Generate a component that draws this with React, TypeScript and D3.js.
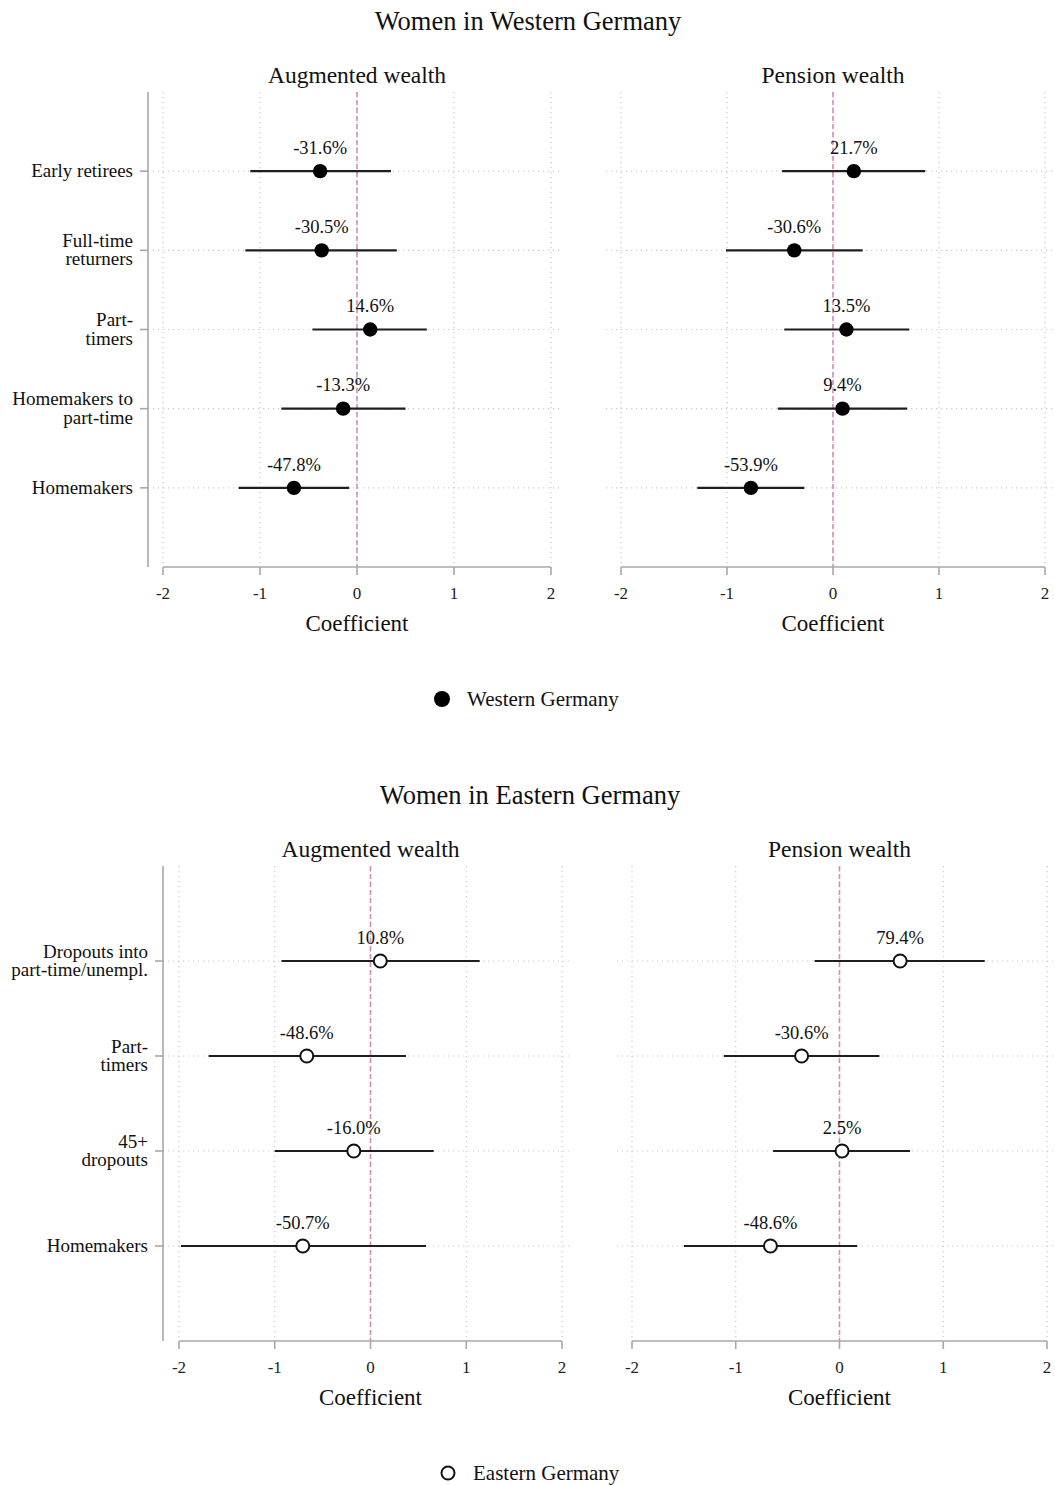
import React from "react";
import * as d3 from "d3";

// Coefficient plots: effect on augmented and pension wealth, by group.
const xTicks = [-2, -1, 0, 1, 2];

const westCategories = ["Early retirees", "Full-time\nreturners", "Part-\ntimers", "Homemakers to\npart-time", "Homemakers"];
const westAugPct = [-31.6, -30.5, 14.6, -13.3, -47.8];
const westAugLo = [-1.10, -1.15, -0.46, -0.78, -1.22];
const westAugHi = [0.35, 0.41, 0.72, 0.50, -0.08];
const westPenPct = [21.7, -30.6, 13.5, 9.4, -53.9];
const westPenLo = [-0.48, -1.01, -0.46, -0.52, -1.28];
const westPenHi = [0.87, 0.28, 0.72, 0.70, -0.27];

const eastCategories = ["Dropouts into\npart-time/unempl.", "Part-\ntimers", "45+\ndropouts", "Homemakers"];
const eastAugPct = [10.8, -48.6, -16.0, -50.7];
const eastAugLo = [-0.93, -1.69, -1.00, -1.98];
const eastAugHi = [1.14, 0.37, 0.66, 0.58];
const eastPenPct = [79.4, -30.6, 2.5, -48.6];
const eastPenLo = [-0.24, -1.115, -0.64, -1.50];
const eastPenHi = [1.40, 0.385, 0.68, 0.17];

const FONT = "'Liberation Serif', 'Times New Roman', serif";
const AXIS = "#a8a8a8";
const GRID = "#c9c9c9";
const ZERO = "#d58cb3";
const DY = 1.5; // small baseline nudge for centred text

// percentage effect -> log coefficient
const coef = (pct: number) => Math.log(1 + pct / 100);

type PanelProps = {
  title: string;
  cats: string[];
  pct: number[];
  lo: number[];
  hi: number[];
  x0: number;
  x1: number;
  top: number;
  bottom: number;
  gridLeft: number;
  gridRight: number;
  axisX?: number;
  labelX?: number;
  hollow: boolean;
};

function Panel(p: PanelProps) {
  const x = d3.scaleLinear().domain([-2, 2]).range([p.x0, p.x1]);
  const y = d3.scaleLinear().domain([0, p.cats.length + 1]).range([p.top, p.bottom]);
  const rows = p.cats.map((_, i) => i + 1);
  return (
    <g>
      <text x={x(0)} y={p.top - 16 + DY} textAnchor="middle" dominantBaseline="middle" fontSize={23.5} fontFamily={FONT} fill="#111">{p.title}</text>
      {/* vertical dotted grid */}
      {xTicks.map((t) => (
        <line key={"vg" + t} x1={x(t)} x2={x(t)} y1={p.top} y2={p.bottom} stroke={GRID} strokeWidth={1.2} strokeDasharray="1.2,3.8" />
      ))}
      {/* horizontal dotted grid */}
      {rows.map((r) => (
        <line key={"hg" + r} x1={p.gridLeft} x2={p.gridRight} y1={y(r)} y2={y(r)} stroke={GRID} strokeWidth={1.2} strokeDasharray="1.2,3.8" />
      ))}
      {/* zero reference */}
      <line x1={x(0)} x2={x(0)} y1={p.top} y2={p.bottom} stroke={ZERO} strokeWidth={1.6} strokeDasharray="5,3" />
      {/* x axis */}
      <line x1={x(-2)} x2={x(2)} y1={p.bottom} y2={p.bottom} stroke={AXIS} strokeWidth={1.6} />
      {xTicks.map((t) => (
        <g key={"xt" + t}>
          <line x1={x(t)} x2={x(t)} y1={p.bottom} y2={p.bottom + 8} stroke={AXIS} strokeWidth={1.6} />
          <text x={x(t)} y={p.bottom + 27 + DY} textAnchor="middle" dominantBaseline="middle" fontSize={17} fontFamily={FONT} fill="#222">{t}</text>
        </g>
      ))}
      <text x={x(0)} y={p.bottom + 57 + DY} textAnchor="middle" dominantBaseline="middle" fontSize={23} fontFamily={FONT} fill="#111">Coefficient</text>
      {/* y axis with category labels */}
      {p.axisX !== undefined && (
        <g>
          <line x1={p.axisX} x2={p.axisX} y1={p.top} y2={p.bottom} stroke={AXIS} strokeWidth={1.6} />
          {p.cats.map((c, i) => {
            const lines = c.split("\n");
            const yc = y(i + 1);
            return (
              <g key={"yl" + i}>
                <line x1={p.axisX! - 8} x2={p.axisX} y1={yc} y2={yc} stroke={AXIS} strokeWidth={1.6} />
                {lines.map((ln, j) => (
                  <text key={j} x={p.labelX} y={yc + DY + (j - (lines.length - 1) / 2) * 18.5} textAnchor="end" dominantBaseline="middle" fontSize={19} fontFamily={FONT} fill="#111">{ln}</text>
                ))}
              </g>
            );
          })}
        </g>
      )}
      {/* estimates with confidence intervals */}
      {p.pct.map((v, i) => {
        const yc = y(i + 1);
        const cx = x(coef(v));
        return (
          <g key={"pt" + i}>
            <line x1={x(p.lo[i])} x2={x(p.hi[i])} y1={yc} y2={yc} stroke="#1e1e1e" strokeWidth={2.2} />
            {p.hollow ? (
              <circle cx={cx} cy={yc} r={6.5} fill="#fff" stroke="#111" strokeWidth={2} />
            ) : (
              <circle cx={cx} cy={yc} r={7.2} fill="#000" />
            )}
            <text x={cx} y={yc - 23 + DY} textAnchor="middle" dominantBaseline="middle" fontSize={18.5} fontFamily={FONT} fill="#111">{v.toFixed(1) + "%"}</text>
          </g>
        );
      })}
    </g>
  );
}

export default function App() {
  return (
    <svg width={1055} height={1485} style={{ position: "absolute", left: 0, top: 0, background: "#fff" }}>
      <rect width={1055} height={1485} fill="#fff" />
      <text x={528} y={22 + DY} textAnchor="middle" dominantBaseline="middle" fontSize={26.5} fontFamily={FONT} fill="#111">Women in Western Germany</text>
      <Panel title="Augmented wealth" cats={westCategories} pct={westAugPct} lo={westAugLo} hi={westAugHi}
        x0={163} x1={551} top={92} bottom={567} gridLeft={148} gridRight={562} axisX={148} labelX={133} hollow={false} />
      <Panel title="Pension wealth" cats={westCategories} pct={westPenPct} lo={westPenLo} hi={westPenHi}
        x0={621} x1={1045} top={92} bottom={567} gridLeft={606} gridRight={1060} hollow={false} />
      <circle cx={442} cy={699} r={8} fill="#000" />
      <text x={467} y={700 + DY} dominantBaseline="middle" fontSize={21} fontFamily={FONT} fill="#111">Western Germany</text>

      <text x={530} y={796 + DY} textAnchor="middle" dominantBaseline="middle" fontSize={26.5} fontFamily={FONT} fill="#111">Women in Eastern Germany</text>
      <Panel title="Augmented wealth" cats={eastCategories} pct={eastAugPct} lo={eastAugLo} hi={eastAugHi}
        x0={179} x1={562} top={866} bottom={1341} gridLeft={163} gridRight={573} axisX={163} labelX={148} hollow={true} />
      <Panel title="Pension wealth" cats={eastCategories} pct={eastPenPct} lo={eastPenLo} hi={eastPenHi}
        x0={632} x1={1047} top={866} bottom={1341} gridLeft={617} gridRight={1060} hollow={true} />
      <circle cx={448} cy={1473} r={6.5} fill="#fff" stroke="#111" strokeWidth={2} />
      <text x={473} y={1474 + DY} dominantBaseline="middle" fontSize={21} fontFamily={FONT} fill="#111">Eastern Germany</text>
    </svg>
  );
}
